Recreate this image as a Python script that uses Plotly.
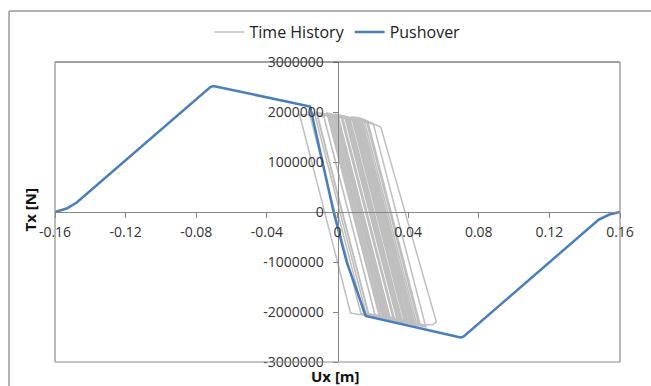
import plotly.graph_objects as go

# ---- data ----
# Pushover curve: Ux [m], Tx [MN]
push_x = [-0.1600, -0.1534, -0.1477, -0.0720, -0.0705, -0.0690, -0.0155, -0.0084, -0.0022,
          0.0052, 0.0160, 0.0685, 0.0700, 0.0715, 0.1480, 0.1540, 0.1600]
push_y = [0.00, 0.07, 0.19, 2.50, 2.52, 2.51, 2.11, 1.00, 0.00,
          -1.00, -2.08, -2.50, -2.51, -2.49, -0.15, -0.05, 0.00]

# Time history turning points: Ux [m], Tx [MN]
th_x = [0.0000, 0.0150, 0.0215, -0.0077, -0.0130, 0.0161, 0.0260, -0.0030, -0.0080, 0.0212,
        0.0300, 0.0008, -0.0040, 0.0253, 0.0360, 0.0066, 0.0020, 0.0314, 0.0420, 0.0124,
        0.0060, 0.0356, 0.0460, 0.0165, 0.0100, 0.0396, 0.0490, 0.0540, 0.0560, 0.0245,
        0.0150, 0.0117, 0.0080, 0.0380, 0.0440, 0.0142, 0.0040, 0.0336, 0.0400, 0.0103,
        -0.0010, 0.0286, 0.0340, 0.0043, -0.0060, 0.0235, 0.0290, -0.0005, -0.0120, 0.0174,
        0.0240, -0.0054, -0.0215, 0.0074, 0.0088, 0.0180, -0.0115, -0.0160, 0.0133, 0.0280,
        -0.0013, -0.0050, 0.0246, 0.0380, 0.0084, 0.0030, 0.0325, 0.0470, 0.0174, 0.0120,
        0.0419, 0.0500, 0.0204, 0.0140, 0.0090, 0.0388, 0.0430, 0.0132, 0.0070, 0.0364,
        0.0410, 0.0114, 0.0000, 0.0295, 0.0350, 0.0055, -0.0030, 0.0262, 0.0320, 0.0027,
        -0.0020, 0.0275, 0.0390, 0.0093, 0.0050, 0.0344, 0.0450, 0.0152, 0.0110, 0.0363,
        0.0275]
th_y = [0.00, -2.05, -2.10, 1.90, 1.97, -2.02, -2.10, 1.88, 1.95, -2.05,
        -2.14, 1.86, 1.93, -2.08, -2.18, 1.85, 1.90, -2.12, -2.22, 1.84,
        1.89, -2.16, -2.25, 1.80, 1.87, -2.18, -2.26, -2.25, -2.20, 1.70,
        1.85, 1.89, 1.90, -2.20, -2.26, 1.82, 1.92, -2.14, -2.20, 1.86,
        1.96, -2.10, -2.16, 1.90, 1.98, -2.06, -2.12, 1.92, 1.99, -2.04,
        -2.10, 1.93, 1.95, -2.02, -2.03, -2.08, 1.96, 1.98, -2.03, -2.13,
        1.89, 1.94, -2.11, -2.22, 1.84, 1.88, -2.17, -2.28, 1.78, 1.85,
        -2.24, -2.30, 1.75, 1.84, 1.87, -2.20, -2.24, 1.83, 1.88, -2.15,
        -2.21, 1.85, 1.95, -2.09, -2.17, 1.87, 1.93, -2.07, -2.14, 1.88,
        1.92, -2.12, -2.21, 1.86, 1.89, -2.14, -2.26, 1.82, 1.86, -1.60,
        -0.40]

x_ticks = [-0.16, -0.12, -0.08, -0.04, 0, 0.04, 0.08, 0.12, 0.16]
x_tick_labels = ["-0.16", "-0.12", "-0.08", "-0.04", "0", "0.04", "0.08", "0.12", "0.16"]
y_ticks = [-3000000, -2000000, -1000000, 0, 1000000, 2000000, 3000000]
y_tick_labels = ["-3000000", "-2000000", "-1000000", "0", "1000000", "2000000", "3000000"]

MN = 1e6
font_family = "Open Sans"
axis_col = "#868686"

fig = go.Figure()
fig.add_trace(go.Scatter(x=th_x, y=[v * MN for v in th_y], mode="lines", name="Time History",
                         line=dict(color="#BFBFBF", width=1.5)))
fig.add_trace(go.Scatter(x=push_x, y=[v * MN for v in push_y], mode="lines", name="Pushover",
                         line=dict(color="#4A7EBB", width=2.5)))

fig.update_layout(
    width=651, height=386,
    margin=dict(l=55, r=31, t=62, b=24),
    paper_bgcolor="white", plot_bgcolor="white",
    font=dict(family=font_family, color="#333333", size=14),
    showlegend=True,
    legend=dict(orientation="h", x=0.5, xanchor="center", y=1.1, yanchor="middle",
                font=dict(size=16, color="#222222"), itemwidth=30,
                bgcolor="rgba(0,0,0,0)", traceorder="normal"),
    xaxis=dict(range=[-0.16, 0.16], tickvals=x_ticks, ticktext=x_tick_labels,
               showgrid=False, zeroline=False, showline=True, linecolor=axis_col, linewidth=1,
               ticks="outside", ticklen=5, tickcolor=axis_col, anchor="free", position=0.5,
               ticklabelstandoff=2, tickfont=dict(size=14)),
    yaxis=dict(range=[-3000000, 3000000], tickvals=y_ticks, ticktext=y_tick_labels,
               showgrid=False, zeroline=False, showline=True, linecolor=axis_col, linewidth=1,
               ticks="outside", ticklen=5, tickcolor=axis_col, anchor="free", position=0.5,
               ticklabelstandoff=6, tickfont=dict(size=14)),
    annotations=[
        dict(text="<b>Ux [m]</b>", xref="paper", yref="paper", x=0.497, y=-0.047,
             showarrow=False, font=dict(size=15, color="#111111"), xanchor="center", yanchor="middle"),
        dict(text="<b>Tx [N]</b>", xref="paper", yref="paper", x=-0.045, y=0.507, textangle=-90,
             showarrow=False, font=dict(size=15, color="#111111"), xanchor="center", yanchor="middle"),
    ],
    shapes=[
        # outer chart border (extends beyond the window on right and bottom)
        dict(type="line", xref="paper", yref="paper", x0=-0.0814, x1=1.2, y0=1.17, y1=1.17,
             line=dict(color="#9A9A9A", width=1.5)),
        dict(type="line", xref="paper", yref="paper", x0=-0.0814, x1=-0.0814, y0=1.17, y1=-0.2,
             line=dict(color="#9A9A9A", width=1.5)),
        # plot area frame
        dict(type="line", xref="paper", yref="paper", x0=0, x1=1, y0=1, y1=1,
             line=dict(color="#404040", width=1)),
        dict(type="line", xref="paper", yref="paper", x0=0, x1=0, y0=0, y1=1,
             line=dict(color="#8C8C8C", width=1.2)),
        dict(type="line", xref="paper", yref="paper", x0=1, x1=1, y0=0, y1=1,
             line=dict(color="#8C8C8C", width=1.2)),
        dict(type="line", xref="paper", yref="paper", x0=0, x1=1, y0=0, y1=0,
             line=dict(color="#8C8C8C", width=1.2)),
    ],
)

fig.write_html("out.html")
